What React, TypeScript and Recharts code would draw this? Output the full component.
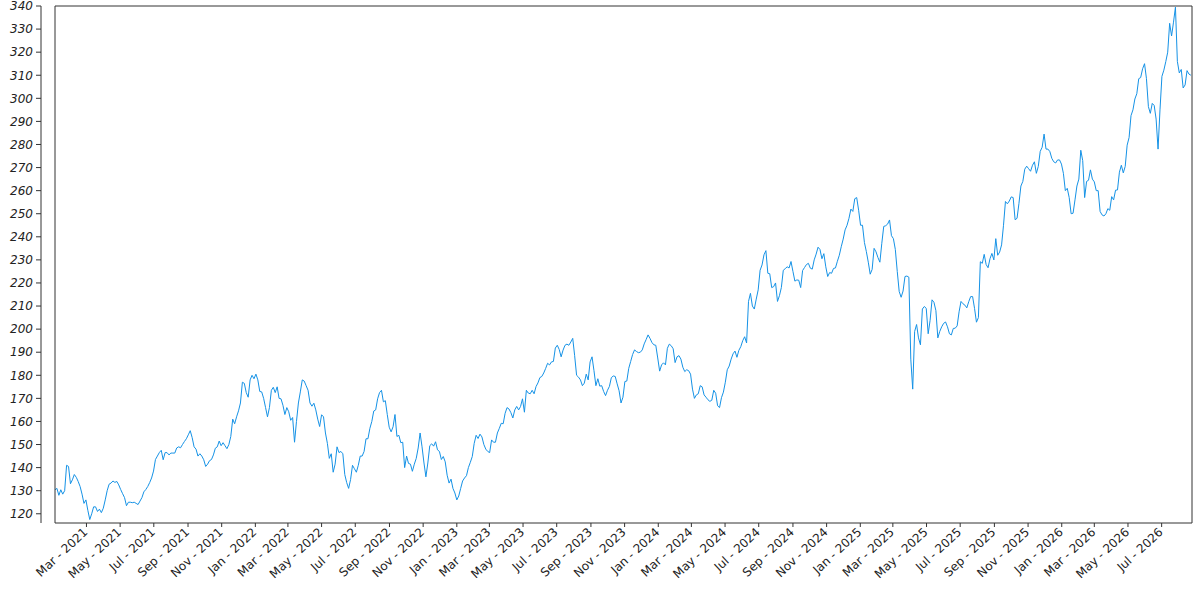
import React from 'react';
import { LineChart, Line, XAxis, YAxis, ReferenceLine } from 'recharts';

// closing prices every 3.5 days, first one on 2021-01-03
const firstDay = '2021-01-03';
const lastDay = '2026-08-25';
const stepDays = 3.5;

// Jan 2021 - Sep 2021
const pricesA = [
  130.4, 131, 128, 130.4, 128.5, 130, 141, 140.5, 133, 134.7, 137, 135.8, 134, 131.8, 128.5, 124.5, 126, 121.5,
  117.5, 120, 123, 123, 121, 122, 120.5, 122.4, 126, 130, 132.8, 133.3, 134.2, 133.6, 134, 132.5, 130.5, 128.7,
  127, 123.5, 125, 125, 124.8, 125, 124.5, 124, 125.5, 127, 129.5, 130.5, 131.8, 133.5, 135.5, 138.5, 143.5, 145,
  146.5, 147.5, 143.4, 146.5, 146.5, 145.5, 146.3, 146.3, 146.3, 148.5, 149, 148.6, 150, 151.3, 152.5, 154.2,
  156, 153, 149, 148,
];
// Sep 2021 - Jun 2022
const pricesB = [
  145, 146, 145, 143.4, 140.5, 141.5, 143, 143.5, 145.5, 148.4, 149, 151.5, 149.5, 150.8, 149.5, 148.2, 150, 153.5,
  161, 159, 162, 164.6, 168, 177, 176.5, 172.5, 170.5, 178, 180, 178.5, 180.5, 178, 173, 172.8, 170, 166, 162, 166,
  173.5, 174.8, 172.5, 175, 170, 169.8, 167, 163, 166, 164.2, 160.5, 161.7, 151, 160, 168, 172.8, 178, 177.5,
  175.5, 173.5, 168, 166.6, 167.9, 165, 161, 157.8, 162.9, 162, 155, 150.5, 144, 146, 138, 141.5, 149, 146.5,
];
// Jun 2022 - Feb 2023
const pricesC = [
  147, 146, 137, 133.5, 131, 134.8, 141, 139.5, 138, 141, 145, 145, 147, 152.5, 152.5, 157, 160, 164.5, 165, 169.8,
  172.5, 173.5, 168.5, 169, 163, 157.5, 155.5, 157.7, 163, 153.5, 154, 150.8, 151, 140, 145, 141.8, 141.5, 138.4,
  141.5, 144, 148.5, 155, 149, 142, 136, 142, 149.5, 150.3, 149.3, 151.2, 147.7, 147, 143.5, 144.8, 142.5, 136.7,
  133.3, 135, 131, 129, 126, 127.7, 131, 134.2, 135.5, 136.5, 140, 142.3, 144.8, 150.5, 154, 152.6, 154.5, 153.3,
];
// Feb 2023 - Nov 2023
const pricesD = [
  150, 148, 147, 146.5, 152, 151, 151, 155, 157, 159.2, 159, 163.5, 166, 165.4, 163.8, 161.5, 165, 166.5, 165,
  166.5, 169.8, 164, 173.5, 172.3, 172, 173.5, 172, 175.1, 176.7, 179, 179.5, 181, 183, 185.2, 184.5, 185.8, 186,
  191.8, 193, 191.2, 188, 190.9, 193, 193.5, 193, 194.4, 196, 188.5, 180, 179.2, 178, 175.5, 176.6, 180.5, 178,
  185.8, 188, 182, 175.5, 178.5, 175.3, 175.5, 173, 171.2, 173.5, 175.2, 179, 179.7, 179.5, 176.3, 173.3, 168,
];
// Nov 2023 - Aug 2024
const pricesE = [
  170.5, 177.3, 177.5, 183, 186, 189, 191, 190.3, 189.8, 190, 191, 193.6, 195.5, 197.5, 196, 194.2, 193.2, 193,
  187.5, 181.8, 184.5, 185.4, 184.5, 191.7, 193.5, 192.8, 191.5, 185.5, 188, 188.5, 187, 183.5, 181.6, 182.4, 182,
  180.5, 174, 170, 171.5, 172, 175.5, 175, 171.5, 170.5, 169.4, 168.7, 169.2, 173.5, 172.2, 166.8, 166, 170.3,
  172.7, 177, 182.4, 184, 187, 189.3, 190.5, 187.8, 190.8, 192.4, 195, 196.7, 194, 212, 215.5, 210, 208.7, 213,
  217, 225.5, 227.8, 232.2,
];
// Aug 2024 - Apr 2025
const pricesF = [
  234, 224.2, 224, 218, 218.4, 220, 212, 214.5, 218, 225.5, 226.2, 227, 226.5, 229.3, 225, 220.8, 221.3, 221.2,
  218, 225.4, 226.7, 228, 228.5, 226.4, 226, 230, 232.5, 235.5, 234.5, 230.5, 232.7, 227, 222.8, 224.5, 224.2,
  226.3, 226.5, 229.4, 232, 235.7, 239, 243, 245, 248, 252, 251, 256.5, 257, 251.5, 245, 245, 237.5, 233.6, 229,
  223.8, 225.9, 235, 233.5, 231, 229, 237.2, 244.5, 244.8, 245.5, 247.3, 240.5, 239.2, 234.5, 225, 216.3, 213.8,
  216.5, 222.8, 223,
];
// Apr 2025 - Dec 2025
const pricesG = [
  222.5, 187, 174, 199, 202, 196.2, 193.2, 208.7, 209.8, 209, 198, 203.8, 212.7, 211.6, 208, 196.2, 199, 201,
  202.5, 203.1, 201, 198, 197.5, 200.3, 200.4, 201.4, 207.5, 212, 211, 210.4, 209.2, 211.9, 214.1, 214.1, 209,
  203, 205, 229.2, 228.5, 232.4, 228, 226.6, 230.5, 232.8, 230, 239.2, 232, 233.4, 236.5, 245, 255.3, 254.3,
  255.5, 257.3, 257, 247.4, 248, 254.5, 262, 264, 269.3, 270.6, 269.5, 268.4, 271, 272.5, 267.5, 270.5, 277,
  278.8, 284.5, 278, 278, 276.9,
];
// Dec 2025 - Aug 2026
const pricesH = [
  274, 272.5, 272, 273.3, 273.3, 271.5, 267.5, 260, 261, 257, 250, 250.2, 256, 262, 265, 277.5, 273, 257, 264,
  264.5, 269, 265, 263.8, 260, 260, 251, 249.5, 249, 250, 252.2, 251.5, 257.4, 256, 260.2, 260.3, 268, 271, 267.7,
  270.5, 279.7, 283, 292.5, 295, 299.7, 302, 308.5, 309, 312.8, 315, 308.5, 296.4, 293.5, 297.8, 296.9, 291, 278,
  295, 309.5, 312.2, 315.9, 320, 332.5, 327, 333, 339.5, 316, 311, 312.5, 304.5, 305.8, 312, 310.5, 310,
];

const prices = [...pricesA, ...pricesB, ...pricesC, ...pricesD, ...pricesE, ...pricesF, ...pricesG, ...pricesH];

const yTicks = [120, 130, 140, 150, 160, 170, 180, 190, 200, 210, 220, 230, 240, 250, 260, 270, 280, 290, 300, 310, 320, 330, 340];
const monthNames = ['Jan', 'Feb', 'Mar', 'Apr', 'May', 'Jun', 'Jul', 'Aug', 'Sep', 'Oct', 'Nov', 'Dec'];

const DAY = 86400000;
const t0 = Date.parse(firstDay);
const tEnd = Date.parse(lastDay);
const data = prices.map((v, i) => ({ t: t0 + i * stepDays * DAY, v }));

// a tick on the first of every other month, Mar 2021 .. Jul 2026
const xTicks: number[] = [];
for (let n = 0; n < 33; n++) {
  const m = 2 + n * 2;
  xTicks.push(Date.UTC(2021 + Math.floor(m / 12), m % 12, 1));
}

const FONT = '"DejaVu Sans", sans-serif';
const INK = '#333';

const DateTick = (props: any) => {
  const { x, y, payload } = props;
  const d = new Date(payload.value);
  const label = `${monthNames[d.getUTCMonth()]} - ${d.getUTCFullYear()}`;
  return (
    <text
      x={x + 2}
      y={y + 6}
      textAnchor="end"
      fontSize={12}
      fontFamily={FONT}
      fill="#222"
      transform={`rotate(-43 ${x + 2} ${y + 6})`}
    >
      {label}
    </text>
  );
};

export default function App() {
  return (
    <div style={{ position: 'absolute', left: 0, top: 0, background: '#fff' }}>
      <LineChart width={1200} height={600} data={data} margin={{ top: 6, right: 8, bottom: 0, left: 0 }}>
        <XAxis
          dataKey="t"
          type="number"
          scale="time"
          domain={[t0, tEnd]}
          ticks={xTicks}
          height={77}
          tickSize={4}
          tickMargin={0}
          tick={<DateTick />}
          stroke={INK}
          interval={0}
        />
        {/* spacer axis: draws the left edge of the frame */}
        <YAxis yAxisId="frame" width={14} domain={[116, 340]} tick={false} tickLine={false} stroke={INK} />
        <YAxis
          yAxisId="price"
          width={41}
          domain={[116, 340]}
          ticks={yTicks}
          interval={0}
          tickSize={5}
          tickMargin={3}
          stroke={INK}
          tick={{ fontSize: 12, fontFamily: FONT, fontStyle: 'italic', fill: '#222' }}
        />
        <ReferenceLine yAxisId="price" y={340} stroke={INK} />
        <ReferenceLine yAxisId="price" x={tEnd} stroke={INK} />
        <Line
          yAxisId="price"
          type="linear"
          dataKey="v"
          stroke="#1592e6"
          strokeWidth={1}
          dot={false}
          isAnimationActive={false}
        />
      </LineChart>
    </div>
  );
}
